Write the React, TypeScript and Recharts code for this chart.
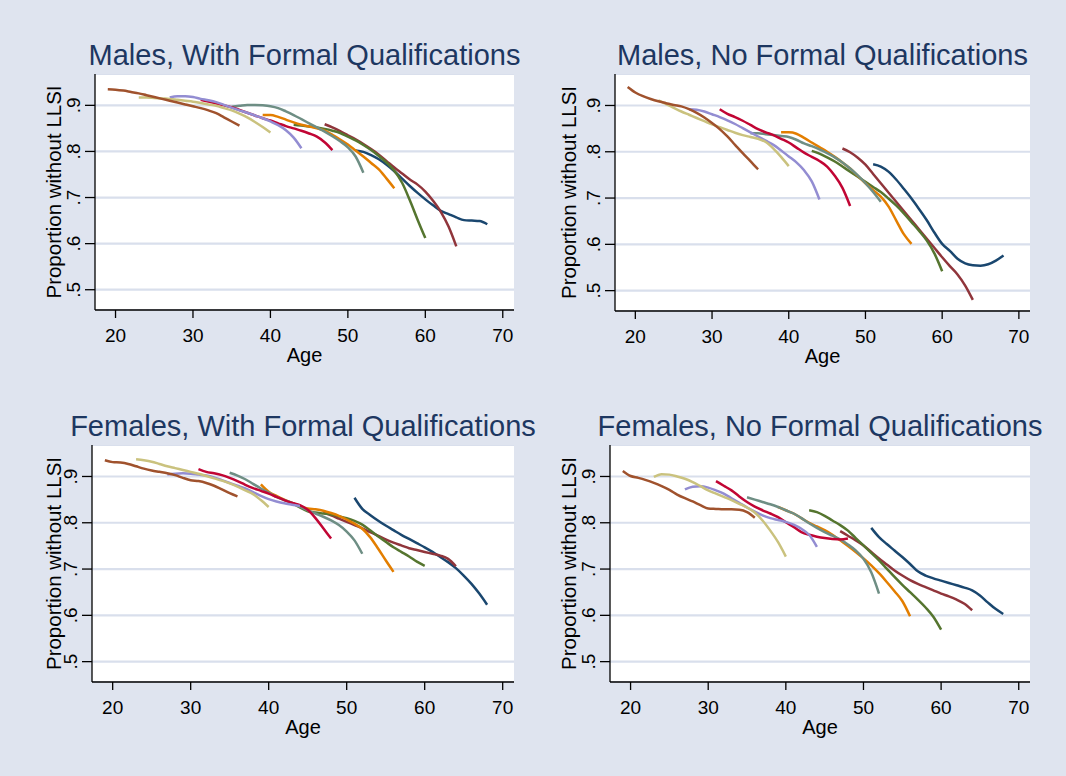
import { LineChart, Line, XAxis, YAxis, CartesianGrid, Label } from "recharts";

// birth cohorts, each followed for 18 years of age (oldest first, Stata s2color order)
const cohortStarts = [51, 47, 43, 39, 35, 31, 27, 23, 19];
const cohortColors = ["#1a476f", "#90353b", "#55752f", "#e37e00", "#6e8e84", "#c10534", "#938dd2", "#cac27e", "#a0522d"];

const ageTicks = [20, 30, 40, 50, 60, 70];
const propTicks = [0.5, 0.6, 0.7, 0.8, 0.9];

const malesFormal: number[][] = [
  [0.802, 0.799, 0.792, 0.783, 0.771, 0.757, 0.741, 0.725, 0.71, 0.696, 0.683, 0.671, 0.664, 0.657, 0.651, 0.65, 0.649, 0.642],
  [0.859, 0.852, 0.844, 0.835, 0.826, 0.816, 0.805, 0.793, 0.779, 0.765, 0.752, 0.739, 0.728, 0.713, 0.693, 0.669, 0.637, 0.594],
  [0.858, 0.856, 0.854, 0.852, 0.849, 0.845, 0.84, 0.832, 0.824, 0.814, 0.803, 0.79, 0.776, 0.758, 0.732, 0.694, 0.652, 0.612],
  [0.879, 0.879, 0.875, 0.869, 0.863, 0.858, 0.854, 0.85, 0.845, 0.836, 0.826, 0.815, 0.802, 0.789, 0.775, 0.761, 0.741, 0.72],
  [0.897, 0.899, 0.901, 0.901, 0.9, 0.898, 0.894, 0.887, 0.879, 0.87, 0.861, 0.852, 0.843, 0.833, 0.822, 0.809, 0.789, 0.754],
  [0.912, 0.908, 0.904, 0.9, 0.896, 0.89, 0.884, 0.878, 0.872, 0.867, 0.861, 0.855, 0.85, 0.845, 0.839, 0.832, 0.82, 0.803],
  [0.917, 0.92, 0.92, 0.918, 0.914, 0.911, 0.907, 0.901, 0.895, 0.889, 0.884, 0.878, 0.872, 0.865, 0.857, 0.846, 0.83, 0.807],
  [0.917, 0.917, 0.916, 0.915, 0.914, 0.912, 0.91, 0.908, 0.905, 0.902, 0.899, 0.894, 0.889, 0.882, 0.874, 0.864, 0.853, 0.841],
  [0.935, 0.934, 0.932, 0.929, 0.926, 0.922, 0.918, 0.914, 0.91, 0.906, 0.902, 0.898, 0.894, 0.889, 0.883, 0.874, 0.865, 0.856],
];

const malesNone: number[][] = [
  [0.773, 0.768, 0.757, 0.74, 0.72, 0.699, 0.676, 0.652, 0.625, 0.601, 0.586, 0.569, 0.559, 0.555, 0.554, 0.557, 0.565, 0.576],
  [0.807, 0.799, 0.787, 0.772, 0.752, 0.732, 0.712, 0.692, 0.672, 0.652, 0.632, 0.612, 0.592, 0.572, 0.553, 0.535, 0.511, 0.48],
  [0.802, 0.796, 0.788, 0.779, 0.768, 0.757, 0.746, 0.735, 0.724, 0.713, 0.699, 0.684, 0.667, 0.648, 0.629, 0.608, 0.58, 0.542],
  [0.842, 0.842, 0.839, 0.83, 0.82, 0.81, 0.8, 0.789, 0.777, 0.764, 0.748, 0.732, 0.717, 0.703, 0.682, 0.652, 0.622, 0.601],
  [0.84, 0.84, 0.838, 0.836, 0.834, 0.832, 0.826, 0.818, 0.812, 0.805, 0.797, 0.788, 0.777, 0.764, 0.749, 0.732, 0.713, 0.692],
  [0.892, 0.882, 0.875, 0.867, 0.858, 0.849, 0.842, 0.836, 0.828, 0.82, 0.809, 0.798, 0.789, 0.78, 0.768, 0.748, 0.722, 0.683],
  [0.892, 0.891, 0.887, 0.881, 0.875, 0.868, 0.86, 0.851, 0.842, 0.833, 0.824, 0.815, 0.803, 0.79, 0.777, 0.76, 0.736, 0.697],
  [0.911, 0.903, 0.895, 0.887, 0.88, 0.873, 0.866, 0.859, 0.853, 0.847, 0.841, 0.836, 0.832, 0.828, 0.821, 0.807, 0.789, 0.769],
  [0.94, 0.928, 0.92, 0.914, 0.909, 0.905, 0.901, 0.898, 0.892, 0.884, 0.874, 0.862, 0.849, 0.833, 0.815, 0.797, 0.78, 0.762],
];

const femalesFormal: number[][] = [
  [0.854, 0.83, 0.817, 0.805, 0.794, 0.784, 0.774, 0.765, 0.756, 0.747, 0.737, 0.726, 0.715, 0.702, 0.686, 0.668, 0.647, 0.623],
  [0.822, 0.816, 0.809, 0.802, 0.795, 0.788, 0.78, 0.772, 0.764, 0.757, 0.751, 0.745, 0.741, 0.737, 0.733, 0.729, 0.722, 0.706],
  [0.843, 0.833, 0.825, 0.822, 0.82, 0.818, 0.814, 0.81, 0.804, 0.796, 0.784, 0.771, 0.759, 0.747, 0.737, 0.727, 0.716, 0.707],
  [0.883, 0.867, 0.858, 0.85, 0.843, 0.836, 0.831, 0.829, 0.826, 0.821, 0.815, 0.807, 0.798, 0.787, 0.769, 0.745, 0.719, 0.694],
  [0.908, 0.902, 0.894, 0.884, 0.874, 0.865, 0.856, 0.849, 0.843, 0.835, 0.827, 0.82, 0.813, 0.805, 0.795, 0.781, 0.762, 0.733],
  [0.916, 0.91, 0.907, 0.903, 0.897, 0.89, 0.882, 0.875, 0.869, 0.863, 0.856, 0.849, 0.843, 0.838, 0.828, 0.81, 0.788, 0.766],
  [0.904, 0.906, 0.907, 0.906, 0.904, 0.902, 0.898, 0.892, 0.886, 0.88, 0.874, 0.866, 0.858, 0.851, 0.846, 0.842, 0.839, 0.836],
  [0.937, 0.935, 0.932, 0.927, 0.922, 0.918, 0.914, 0.91, 0.906, 0.901, 0.896, 0.891, 0.885, 0.878, 0.87, 0.862, 0.849, 0.834],
  [0.935, 0.931, 0.93, 0.927, 0.922, 0.917, 0.913, 0.91, 0.907, 0.903, 0.897, 0.892, 0.89, 0.886, 0.88, 0.872, 0.864, 0.857],
];

const femalesNone: number[][] = [
  [0.789, 0.769, 0.754, 0.74, 0.726, 0.711, 0.695, 0.686, 0.68, 0.675, 0.67, 0.665, 0.66, 0.654, 0.643, 0.628, 0.614, 0.603],
  [0.782, 0.772, 0.762, 0.751, 0.737, 0.723, 0.71, 0.697, 0.686, 0.676, 0.668, 0.661, 0.654, 0.647, 0.641, 0.634, 0.625, 0.611],
  [0.827, 0.823, 0.815, 0.805, 0.795, 0.783, 0.767, 0.751, 0.735, 0.719, 0.701, 0.683, 0.666, 0.65, 0.634, 0.617, 0.597, 0.569],
  [0.834, 0.827, 0.82, 0.81, 0.8, 0.792, 0.784, 0.774, 0.762, 0.75, 0.737, 0.723, 0.708, 0.691, 0.672, 0.652, 0.631, 0.598],
  [0.855, 0.85, 0.845, 0.84, 0.834, 0.827, 0.82, 0.81, 0.799, 0.789, 0.78, 0.772, 0.764, 0.753, 0.74, 0.722, 0.693, 0.647],
  [0.89, 0.88, 0.87, 0.857, 0.845, 0.835, 0.827, 0.82, 0.812, 0.801, 0.791, 0.78, 0.774, 0.77, 0.767, 0.765, 0.764, 0.766],
  [0.872, 0.878, 0.879, 0.876, 0.87, 0.863, 0.853, 0.843, 0.833, 0.824, 0.816, 0.81, 0.806, 0.802, 0.796, 0.787, 0.774, 0.748],
  [0.899, 0.905, 0.904, 0.9, 0.895, 0.888, 0.879, 0.87, 0.863, 0.856, 0.849, 0.841, 0.833, 0.822, 0.805, 0.783, 0.758, 0.727],
  [0.912, 0.901, 0.897, 0.892, 0.886, 0.879, 0.871, 0.861, 0.853, 0.846, 0.838, 0.831, 0.83, 0.829, 0.829, 0.828, 0.823, 0.811],
];

const font = "'Liberation Sans', Arial, sans-serif";
const bg = "#dfe4ef";

function buildRows(series: number[][]) {
  const rows: Record<string, number>[] = [];
  for (let age = 19; age <= 68; age++) {
    const row: Record<string, number> = { age };
    series.forEach((vals, i) => {
      const k = age - cohortStarts[i];
      if (k >= 0 && k < vals.length) row["c" + i] = vals[k];
    });
    rows.push(row);
  }
  return rows;
}

const fmtProp = (v: number) => String(v).replace(/^0/, "");

function YTick(props: any) {
  const { x, y, payload } = props;
  const bx = x - 3;
  return (
    <text x={bx} y={y} transform={`rotate(-90 ${bx} ${y})`} textAnchor="middle" fontSize={19} fontFamily={font} fill="#000">
      {fmtProp(payload.value)}
    </text>
  );
}

function XTick(props: any) {
  const { x, y, payload } = props;
  return (
    <text x={x} y={y + 22} textAnchor="middle" fontSize={19} fontFamily={font} fill="#000">
      {payload.value}
    </text>
  );
}

interface PanelProps {
  title: string;
  series: number[][];
  left: number;
  top: number;
  axisW: number;
  plotW: number;
  plotH: number;
}

function Panel({ title, series, left, top, axisW, plotW, plotH }: PanelProps) {
  const rows = buildRows(series);
  const cx = left + axisW + plotW / 2;
  return (
    <>
      <div
        style={{
          position: "absolute",
          left: cx - 300,
          width: 600,
          top: top - 33,
          textAlign: "center",
          fontFamily: font,
          fontSize: 29,
          lineHeight: "29px",
          color: "#1d3761",
          whiteSpace: "nowrap",
        }}
      >
        {title}
      </div>
      <div style={{ position: "absolute", left, top }}>
        <LineChart width={axisW + plotW} height={plotH + 70} data={rows} margin={{ top: 0, right: 0, bottom: 0, left: 0 }}>
          <CartesianGrid horizontal vertical={false} stroke="#d9dfec" strokeWidth={2.2} fill="#fff" fillOpacity={1} />
          <XAxis
            dataKey="age"
            type="number"
            domain={[17.35, 71.45]}
            ticks={ageTicks}
            allowDataOverflow
            height={70}
            tickSize={8}
            tick={<XTick />}
            axisLine={{ stroke: "#000", strokeWidth: 1.3 }}
            tickLine={{ stroke: "#000", strokeWidth: 1.3 }}
          >
            <Label
              content={(p: any) => {
                const vb = p.viewBox;
                return (
                  <text x={vb.x + vb.width / 2} y={vb.y + 52} textAnchor="middle" fontSize={20} fontFamily={font} fill="#000">
                    Age
                  </text>
                );
              }}
            />
          </XAxis>
          <YAxis
            type="number"
            domain={[0.456, 0.968]}
            ticks={propTicks}
            allowDataOverflow
            width={axisW}
            tickSize={10}
            tick={<YTick />}
            axisLine={{ stroke: "#000", strokeWidth: 1.3 }}
            tickLine={{ stroke: "#000", strokeWidth: 1.3 }}
          >
            <Label
              content={(p: any) => {
                const vb = p.viewBox;
                const bx = left === 40 ? 60.7 - left : 575.7 - left;
                const x = vb.x + bx;
                const y = vb.y + vb.height / 2;
                return (
                  <text x={x} y={y} transform={`rotate(-90 ${x} ${y})`} textAnchor="middle" fontSize={20.5} fontFamily={font} fill="#000">
                    Proportion without LLSI
                  </text>
                );
              }}
            />
          </YAxis>
          {series.map((_, i) => (
            <Line
              key={i}
              dataKey={"c" + i}
              type="monotone"
              stroke={cohortColors[i]}
              strokeWidth={2.5}
              dot={false}
              activeDot={false}
              isAnimationActive={false}
            />
          ))}
        </LineChart>
      </div>
    </>
  );
}

export default function App() {
  return (
    <div style={{ position: "absolute", left: 0, top: 0, width: 1066, height: 776, background: bg, overflow: "hidden" }}>
      <Panel title="Males, With Formal Qualifications" series={malesFormal} left={40} top={74} axisW={55} plotW={419} plotH={236} />
      <Panel title="Males, No Formal Qualifications" series={malesNone} left={555} top={74} axisW={60} plotW={415} plotH={237} />
      <Panel title="Females, With Formal Qualifications" series={femalesFormal} left={40} top={445} axisW={52} plotW={422} plotH={237} />
      <Panel title="Females, No Formal Qualifications" series={femalesNone} left={555} top={445} axisW={55} plotW={420} plotH={237} />
    </div>
  );
}
